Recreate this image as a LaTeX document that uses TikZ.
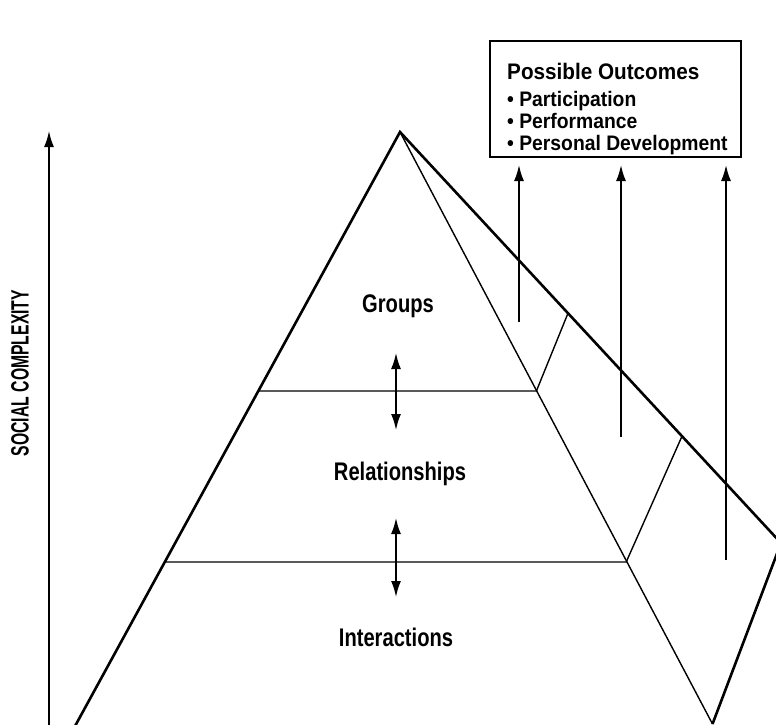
\documentclass[tikz,border=0pt]{standalone}
\usepackage{fontspec}
\setmainfont{Liberation Sans}
\newfontfamily\condA{Liberation Sans}[FakeStretch=0.79]
\newfontfamily\condB{Liberation Sans}[FakeStretch=0.92]
\newfontfamily\condC{Liberation Sans}[FakeStretch=0.63]
\usetikzlibrary{arrows.meta,calc}
\begin{document}
\begin{tikzpicture}[x=1pt,y=-1pt,
 thickln/.style={line width=2.6pt, line join=miter},
 thinln/.style={line width=1.4pt},
 arr/.style={line width=1.8pt, -{Latex[length=16pt,width=10pt]}},
 darr/.style={line width=1.8pt, {Latex[length=16pt,width=10pt]}-{Latex[length=16pt,width=10pt]}},
 lvl/.style={font=\condA\bfseries\fontsize{25.5pt}{30pt}\selectfont, inner sep=0pt, anchor=base},
 outc/.style={font=\condB\bfseries\fontsize{21pt}{25pt}\selectfont, inner sep=0pt, anchor=base west},
 outctitle/.style={outc, font=\condB\bfseries\fontsize{22.5pt}{26pt}\selectfont},
 axislbl/.style={font=\condC\bfseries\fontsize{25pt}{28pt}\selectfont, inner sep=0pt, rotate=90},
]
\useasboundingbox (0,0) rectangle (776,725);
\clip (0,0) rectangle (776,725);
\fill[white] (0,0) rectangle (776,725);

% pyramid points
\coordinate (apex) at (400,132);
\coordinate (bl) at (74,728);
\coordinate (fr) at (712.5,724);
\coordinate (bk) at (781,543);
\coordinate (l1) at (258.5,391);
\coordinate (r1) at (536.4,391);
\coordinate (l2) at (165.2,562);
\coordinate (r2) at (626.2,562);
\coordinate (k1) at (568,313.2);
\coordinate (k2) at (682,436.2);

% thick outline
\draw[thickln] (bl) -- (apex) -- (bk) -- (fr);
% thin lines
\draw[thinln] (apex) -- (fr);
\draw[thinln] (l1) -- (r1) -- (k1);
\draw[thinln] (l2) -- (r2) -- (k2);

% axis
\coordinate (ax0) at (49,730);
\coordinate (ax1) at (49,131);
\draw[arr] (ax0) -- (ax1);
\node[axislbl] (axlabel) at (20,373) {SOCIAL COMPLEXITY};

% level labels
\node[lvl] (groups) at (398,312) {Groups};
\node[lvl] (rel) at (400,480) {Relationships};
\node[lvl] (inter) at (396,646) {Interactions};

% double arrows
\coordinate (d1a) at (396,353);
\coordinate (d1b) at (396,430);
\coordinate (d2a) at (396,518);
\coordinate (d2b) at (396,597);
\draw[darr] (d1a) -- (d1b);
\draw[darr] (d2a) -- (d2b);

% outcomes box
\node[draw, line width=2pt, minimum width=251pt, minimum height=116pt,
      anchor=south west, inner sep=0pt] (box) at (489,158) {};
\node[outctitle] (t0) at (507,79) {Possible Outcomes};
\node[outc] (t1) at (507,106) {\textbullet\ Participation};
\node[outc] (t2) at (507,128) {\textbullet\ Performance};
\node[outc] (t3) at (507,150) {\textbullet\ Personal Development};

% arrows to the box
\coordinate (s1) at (519,322);
\coordinate (s2) at (621,437);
\coordinate (s3) at (726,560);
\draw[arr, shorten >=7pt] (s1) -- (s1 |- box.south);
\draw[arr, shorten >=7pt] (s2) -- (s2 |- box.south);
\draw[arr, shorten >=7pt] (s3) -- (s3 |- box.south);
\end{tikzpicture}
\end{document}
